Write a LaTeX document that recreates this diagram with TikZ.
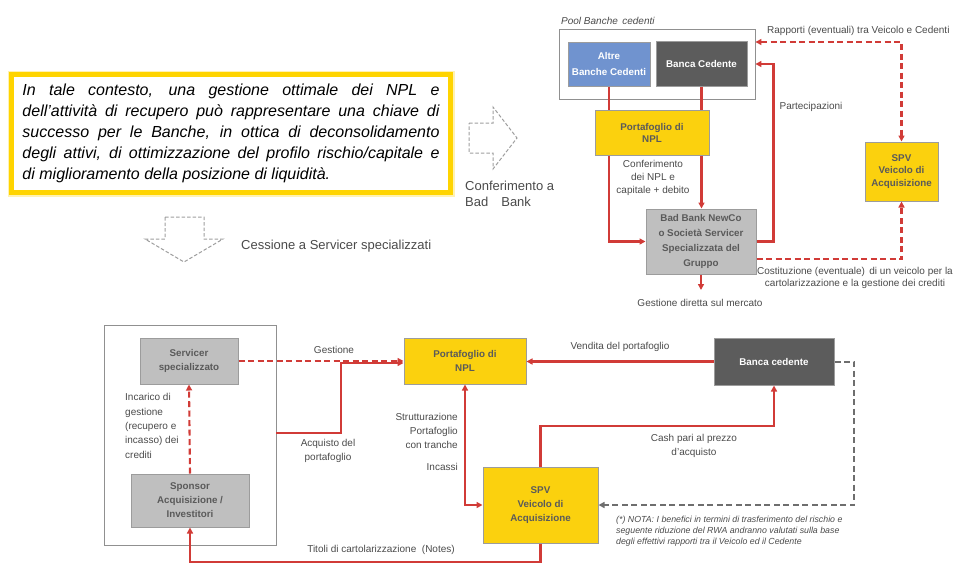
\documentclass[tikz,border=0pt]{standalone}
\usepackage{fontspec}
\setmainfont{Liberation Sans}
\usetikzlibrary{arrows.meta,calc}
\definecolor{ylw}{HTML}{FBD10E}
\definecolor{frameylw}{HTML}{FFD400}
\definecolor{bordgray}{HTML}{9C9C9C}
\definecolor{lgray}{HTML}{BFBFBF}
\definecolor{dgray}{HTML}{5C5C5C}
\definecolor{bblue}{HTML}{7093CF}
\definecolor{redl}{HTML}{D13B37}
\definecolor{txtgray}{HTML}{5A5A5A}
\definecolor{lbl}{HTML}{4A4A4A}
\definecolor{framegray}{HTML}{909090}
\definecolor{dashgray}{HTML}{6E6E6E}
\definecolor{arrgray}{HTML}{9E9E9E}
\begin{document}
\begin{tikzpicture}[x=1pt,y=-1pt,
  >={Triangle[length=6pt,width=6pt]},
  box/.style={draw=bordgray, line width=1pt, inner sep=1pt, align=center,
    font=\bfseries\fontsize{9.8}{14}\selectfont, text=txtgray},
  ybox/.style={box, fill=ylw},
  gbox/.style={box, fill=lgray},
  dbox/.style={box, fill=dgray, text=white},
  bbox/.style={box, fill=bblue, text=white},
  frm/.style={draw=framegray, line width=0.9pt, inner sep=0},
  rl/.style={draw=redl, line width=2.1pt},
  rd/.style={rl, dash pattern=on 6pt off 3.5pt},
  gdash/.style={draw=dashgray, line width=2pt, dash pattern=on 6pt off 3.5pt},
  bigarrow/.style={draw=arrgray, line width=1pt, dash pattern=on 3.5pt off 2pt},
  lab/.style={font=\fontsize{10}{14.3}\selectfont, text=lbl, inner sep=0},
]
\useasboundingbox (0,0) rectangle (954,563);

% ---------- top-left text box ----------
\node[draw=frameylw!30, line width=8pt, minimum width=439, minimum height=118] (shadow) at (231,133.5) {};
\node[draw=frameylw, fill=white, line width=4.5pt, minimum width=439, minimum height=118,
  inner sep=0, text width=417, align=justify,
  font=\itshape\fontsize{16}{21}\selectfont] (intro) at (231,133.5)
  {In tale contesto, una gestione ottimale dei NPL e\linebreak
   dell’attività di recupero può rappresentare una chiave di\linebreak
   successo per le Banche, in ottica di deconsolidamento\linebreak
   degli attivi, di ottimizzazione del profilo rischio/capitale e\linebreak
   di miglioramento della posizione di liquidità.};

% dashed outline arrows
\draw[bigarrow] (469,123) -- (493,123) -- (493,107) -- (517,138) -- (493,169) -- (493,153) -- (469,153) -- cycle;
\node[lab, font=\fontsize{13}{16}\selectfont, align=left, anchor=west] (confbb) at (465,194) {Conferimento a\\Bad\quad Bank};
\draw[bigarrow] (165,217) -- (204,217) -- (204,239) -- (223,239) -- (184,262) -- (145,239) -- (165,239) -- cycle;
\node[lab, font=\fontsize{13}{16}\selectfont, anchor=west] (cess) at (241,246) {Cessione a Servicer specializzati};

% ---------- top-right diagram ----------
\node[frm, minimum width=196, minimum height=70] (pool) at (657,64) {};
\node[lab, font=\itshape\fontsize{10}{12}\selectfont, anchor=west] (poollab) at (561,21) {Pool Banche\, cedenti};
\node[bbox, minimum width=82, minimum height=44, font=\bfseries\fontsize{9.8}{16}\selectfont] (altre) at (609,64) {Altre\\Banche Cedenti};
\node[dbox, minimum width=91, minimum height=45] (bancaT) at (701.5,63.5) {Banca Cedente};
\node[ybox, minimum width=114, minimum height=45, font=\bfseries\fontsize{9.8}{12}\selectfont] (portT) at (652,132.5) {Portafoglio di\\NPL};
\node[gbox, minimum width=110, minimum height=65, font=\bfseries\fontsize{9.8}{15}\selectfont] (badbank) at (701,241.5) {Bad Bank NewCo\\o Società Servicer\\Specializzata del\\Gruppo};
\node[ybox, minimum width=73, minimum height=59, font=\bfseries\fontsize{9.8}{12.7}\selectfont] (spvT) at (901.5,171.5) {SPV\\Veicolo di\\Acquisizione};

\coordinate (rapY) at (901,42);
\coordinate (cosY) at (901,259);
\coordinate (gdEnd) at (701,290);

\draw[rl] (altre.south) -- (altre.south |- portT.north);
\draw[rl] (bancaT.south) -- (bancaT.south |- portT.north);
\draw[rl,->] (altre.south |- portT.south) |- (badbank.west);
\draw[rl,->] (bancaT.south |- portT.south) -- (bancaT.south |- badbank.north);
\draw[rl,->] (badbank.east) -- ++(17,0) |- (pool.east);
\draw[rd,<->] (pool.east |- rapY) -| (spvT.north);
\draw[rd,->] (badbank.east |- cosY) -| (spvT.south);
\draw[rl,->] (badbank.south) -- (gdEnd);

\node[lab, anchor=west] (raplab) at (767,31) {Rapporti (eventuali) tra Veicolo e Cedenti};
\node[lab] (partlab) at (811,107) {Partecipazioni};
\node[lab, align=center, font=\fontsize{10}{13}\selectfont] (conflab) at (653,178) {Conferimento\\dei NPL e\\capitale + debito};
\node[lab, align=center, font=\fontsize{10}{12.5}\selectfont] (coslab) at (855,278) {Costituzione (eventuale)\, di un veicolo per la\\cartolarizzazione e la gestione dei crediti};
\node[lab] (gdlab) at (700,303) {Gestione diretta sul mercato};

% ---------- bottom diagram ----------
\node[frm, minimum width=172, minimum height=220] (outer) at (190,435) {};
\node[gbox, minimum width=98, minimum height=46] (servicer) at (189,361) {Servicer\\specializzato};
\node[gbox, minimum width=118, minimum height=53] (sponsor) at (190,500.5) {Sponsor\\Acquisizione /\\Investitori};
\node[ybox, minimum width=122, minimum height=46] (portB) at (465,361) {Portafoglio di\\NPL};
\node[dbox, minimum width=120, minimum height=47] (bancaB) at (774,361.5) {Banca cedente};
\node[ybox, minimum width=115, minimum height=76] (spvB) at (540.5,505) {SPV\\Veicolo di\\Acquisizione};

\coordinate (acq) at (341,433);
\coordinate (acqTop) at (341,363);
\coordinate (grayX) at (854,361.5);
\coordinate (cashY) at (773,426);
\coordinate (botY) at (190,562);

\draw[rd,->] (sponsor.north) -- (servicer.south);
\draw[rd,->] (servicer.east) -- (portB.west);
\draw[rl,->] (outer.east |- acq) -- (acq) -- (acqTop) -- (acqTop -| portB.west);
\draw[rl,->] (bancaB.west) -- (bancaB.west -| portB.east);
\draw[gdash,->] (bancaB.east) -- (grayX) |- (spvB.east);
\draw[rl,->] (spvB.north) -- (spvB.north |- cashY) -| (bancaB.south);
\draw[rl,<->] (portB.south) |- (spvB.west);
\draw[rl,->] (spvB.south) -- (spvB.south |- botY) -| (sponsor.south);

\node[lab, align=left, anchor=west] (inclab) at (125,426) {Incarico di\\gestione\\(recupero e\\incasso) dei\\crediti};
\node[lab] (gestlab) at (334,350) {Gestione};
\node[lab, align=center] (acqlab) at (328,451) {Acquisto del\\portafoglio};
\node[lab] (vendlab) at (620,347) {Vendita del portafoglio};
\node[lab, align=right, anchor=east] (strlab) at (458,431) {Strutturazione\\Portafoglio\\con tranche};
\node[lab, anchor=east] (inclab2) at (458,467) {Incassi};
\node[lab, align=center] (cashlab) at (694,446) {Cash pari al prezzo\\d’acquisto};
\node[lab] (titlab) at (381,550) {Titoli di cartolarizzazione\ \ (Notes)};
\node[lab, align=left, anchor=north west, font=\itshape\fontsize{8.8}{11}\selectfont] (nota) at (616,516)
  {(*) NOTA: I benefici in termini di trasferimento del rischio e\\
   seguente riduzione del RWA andranno valutati sulla base\\
   degli effettivi rapporti tra il Veicolo ed il Cedente};
\end{tikzpicture}
\end{document}
